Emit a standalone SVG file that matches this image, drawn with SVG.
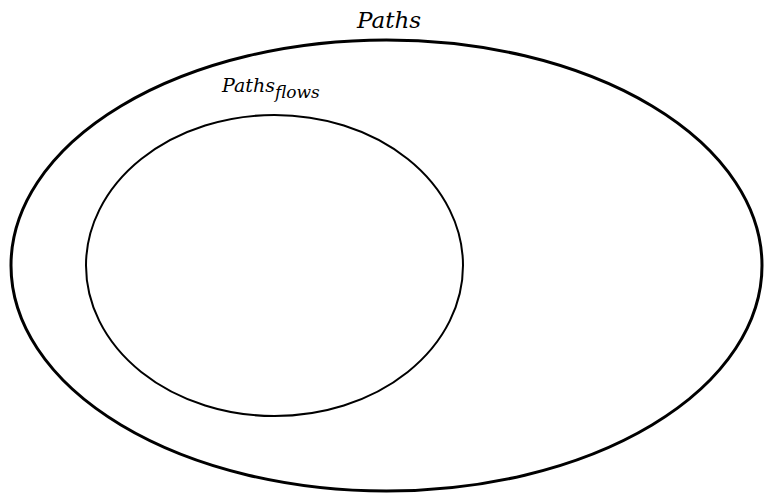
<svg xmlns="http://www.w3.org/2000/svg" width="766" height="495" viewBox="0 0 766 495">
<style>
.set{fill:none;stroke:#000}
.lbl{font-family:'DejaVu Serif',serif;font-style:italic;fill:#000}
</style>
<rect width="766" height="495" fill="#fff"/>
<g id="paths">
<ellipse class="set" cx="386.5" cy="265.5" rx="375.5" ry="225.5" stroke-width="3"/>
<text class="lbl" x="389" y="28" font-size="23" text-anchor="middle">Paths</text>
</g>
<g id="paths-flows">
<ellipse class="set" cx="274.5" cy="265.5" rx="188.5" ry="150.5" stroke-width="2"/>
<text class="lbl" x="222" y="92" font-size="19">Paths<tspan font-size="17" dy="6">flows</tspan></text>
</g>
<g id="connectors"/>
</svg>
